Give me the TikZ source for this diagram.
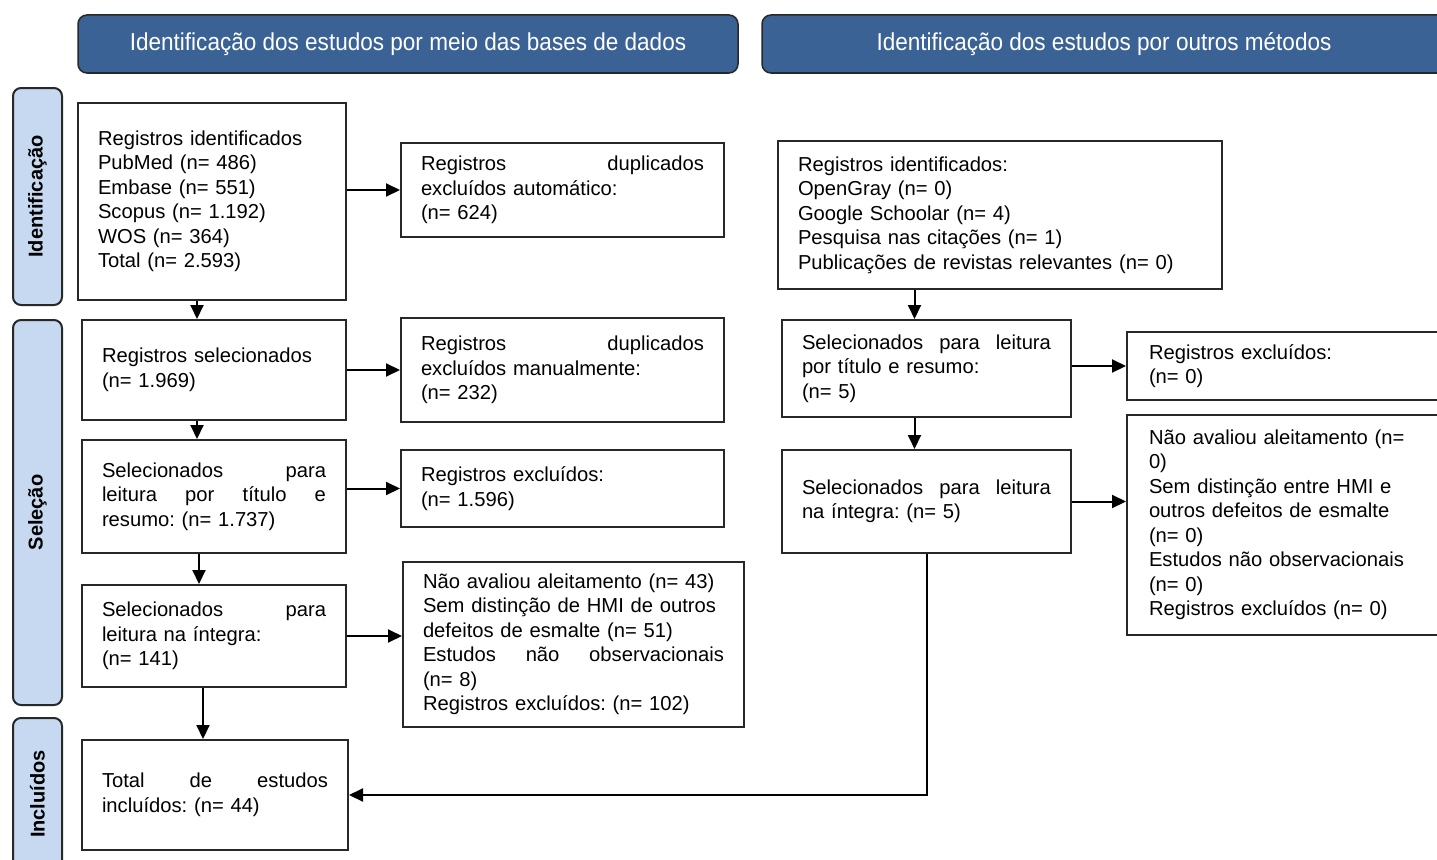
\documentclass[tikz,border=0pt]{standalone}
\usepackage{fontspec}
\setmainfont{Liberation Sans}
\newfontfamily\narrowfont[FakeStretch=0.92]{Liberation Sans}
\usepackage{tikz}
\usetikzlibrary{arrows.meta}
\definecolor{headblue}{RGB}{58,98,148}
\definecolor{sideblue}{RGB}{198,217,240}
\definecolor{boxline}{RGB}{40,40,40}
\frenchspacing

\begin{document}
\begin{tikzpicture}[x=1pt, y=-1pt]
%\draw[very thin, color = gray, step = 50](0, 0) grid (1437, 859);
\tikzstyle{block} = [draw = boxline, line width = 2pt, rectangle, align = left,
  inner xsep = 20pt, inner ysep = 0pt, font = \fontsize{20.2}{24.5}\selectfont];
\tikzstyle{head} = [draw = boxline, line width = 1.5pt, fill = headblue, rounded corners = 9pt,
  text = white, minimum height = 58pt, font = \narrowfont\fontsize{24.5}{28}\selectfont];
\tikzstyle{phase} = [draw = boxline, line width = 2pt, fill = sideblue, rounded corners = 8pt,
  rotate = 90, minimum height = 49pt, font = \bfseries\fontsize{20}{24}\selectfont];
\tikzstyle{line} = [draw, -{Triangle[length = 14pt, width = 13pt]}, line width = 2pt]
\useasboundingbox (0, 0) rectangle (1437, 859);
\node [head, minimum width = 660pt] at (408, 44) (hdA) {Identificação dos estudos por meio das bases de dados};
\node [head, minimum width = 684pt] at (1104, 44) (hdB) {Identificação dos estudos por outros métodos};
\node [phase, minimum width = 217pt] at (37.5, 196.5) (phId) {Identificação};
\node [phase, minimum width = 385pt] at (37.5, 512.5) (phSel) {Seleção};
\node [phase, minimum width = 152pt] at (37.5, 794) (phInc) {Incluídos};
\node [block, text width = 228pt, minimum height = 197pt] at (212, 201.5) (idA) {Registros identificados \\ PubMed (n= 486) \\ Embase (n= 551) \\ Scopus (n= 1.192) \\ WOS (n= 364) \\ Total (n= 2.593)};
\node [block, text width = 283pt, minimum height = 94pt] at (562.5, 190) (dupA) {Registros\hfill duplicados \\ excluídos automático: \\ (n= 624)};
\node [block, text width = 224pt, minimum height = 100pt] at (214, 370) (selA) {Registros selecionados \\ (n= 1.969)};
\node [block, text width = 283pt, minimum height = 104pt] at (562.5, 370) (dupmA) {Registros\hfill duplicados \\ excluídos manualmente: \\ (n= 232)};
\node [block, text width = 224pt, minimum height = 113pt] at (214, 496.5) (titA) {Selecionados\hfill para \\ leitura\hfill por\hfill título\hfill e \\ resumo: (n= 1.737)};
\node [block, text width = 283pt, minimum height = 77pt] at (562.5, 488.5) (exA) {Registros excluídos: \\ (n= 1.596)};
\node [block, text width = 224pt, minimum height = 102pt] at (214, 636) (intA) {Selecionados\hfill para \\ leitura na íntegra: \\ (n= 141)};
\node [block, text width = 301pt, minimum height = 165pt] at (573.5, 644.5) (exB) {Não avaliou aleitamento (n= 43) \\ Sem distinção de HMI de outros \\ defeitos de esmalte (n= 51) \\ Estudos\hfill não\hfill observacionais \\ (n= 8) \\ Registros excluídos: (n= 102)};
\node [block, text width = 226pt, minimum height = 110pt] at (215, 795) (totA) {Total\hfill de\hfill estudos \\ incluídos: (n= 44)};
\node [block, text width = 404pt, minimum height = 148pt] at (1000, 215) (idB) {Registros identificados: \\ OpenGray (n= 0) \\ Google Schoolar (n= 4) \\ Pesquisa nas citações (n= 1) \\ Publicações de revistas relevantes (n= 0)};
\node [block, text width = 249pt, minimum height = 97pt] at (926.5, 368.5) (selB) {Selecionados\hfill para\hfill leitura \\ por título e resumo: \\ (n= 5)};
\node [block, text width = 274pt, inner xsep = 22pt, minimum height = 68pt] at (1286, 366) (exC) {Registros excluídos: \\ (n= 0)};
\node [block, text width = 249pt, minimum height = 103pt] at (926.5, 501.5) (intB) {Selecionados\hfill para\hfill leitura \\ na íntegra: (n= 5)};
\node [block, text width = 274pt, inner xsep = 22pt, minimum height = 220pt] at (1286, 525) (exD) {Não avaliou aleitamento (n= \\ 0) \\ Sem distinção entre HMI e \\ outros defeitos de esmalte \\ (n= 0) \\ Estudos não observacionais \\ (n= 0) \\ Registros excluídos (n= 0)};
\path [line] (idA.east |- dupA.west) -- (dupA.west);
\path [line] ([xshift = -15pt]idA.south) -- ([xshift = -15pt]idA.south |- selA.north);
\path [line] (selA) -- (dupmA);
\path [line] ([xshift = -17pt]selA.south) -- ([xshift = -17pt]selA.south |- titA.north);
\path [line] (titA.east |- exA.west) -- (exA.west);
\path [line] ([xshift = -15pt]titA.south) -- ([xshift = -15pt]titA.south |- intA.north);
\path [line] (intA.east) -- (intA.east -| exB.west);
\path [line] ([xshift = -11pt]intA.south) -- ([xshift = -11pt]intA.south |- totA.north);
\path [line] ([xshift = -12pt]selB.north |- idB.south) -- ([xshift = -12pt]selB.north);
\path [line] (selB.east |- exC.west) -- (exC.west);
\path [line] ([xshift = -12pt]selB.south) -- ([xshift = -12pt]selB.south |- intB.north);
\path [line] (intB.east) -- (intB.east -| exD.west);
\path [line] (intB.south) |- (totA.east);
\end{tikzpicture}
\end{document}
